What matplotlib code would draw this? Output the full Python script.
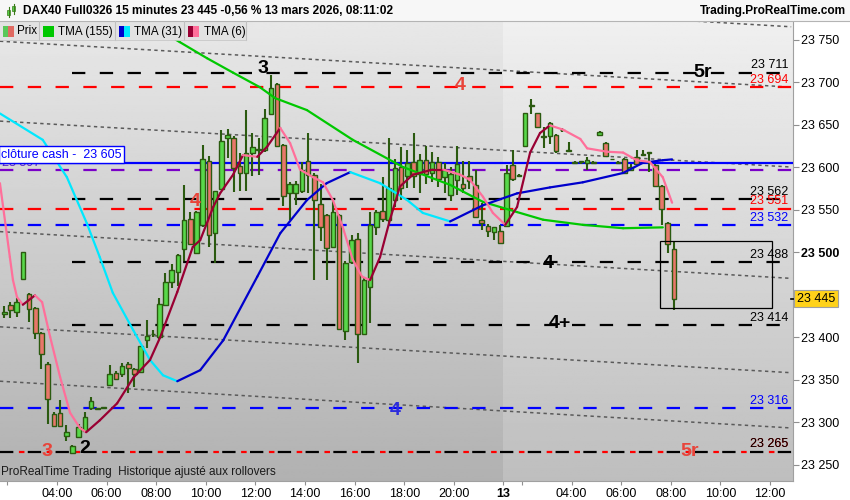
import numpy as np
import matplotlib
matplotlib.use('Agg')
import matplotlib.pyplot as plt
from matplotlib.patches import Rectangle
import matplotlib.transforms as mtrans

plt.rcParams['font.family'] = ['Liberation Sans', 'DejaVu Sans']

# 15 min candles, index 0 = 12 mars 01:45 ... index 108 = 13 mars 08:00
opens = [23427, 23438, 23429, 23468, 23451, 23434, 23405, 23368, 23310, 23311,
         23284, 23263, 23282, 23290, 23316, 23315, 23317, 23344, 23358, 23356,
         23368, 23362, 23359, 23396, 23403, 23400, 23438, 23465, 23477, 23503,
         23539, 23499, 23532, 23607, 23522, 23574, 23634, 23634, 23601, 23593,
         23617, 23620, 23620, 23662, 23698, 23626, 23569, 23569, 23572, 23607,
         23591, 23556, 23543, 23506, 23543, 23407, 23488, 23515, 23404, 23459,
         23530, 23548, 23538, 23561, 23600, 23590, 23606, 23592, 23608, 23593,
         23606, 23588, 23567, 23585, 23580, 23589, 23579, 23538, 23531, 23523,
         23525, 23531, 23602, 23591, 23625, 23672, 23663, 23635, 23636, 23638,
         23644, 23620, 23605, 23606, 23605, 23605, 23638, 23628, 23609, 23605,
         23610, 23596, 23612, 23615, 23617, 23602, 23578, 23534, 23503]
highs = [23436, 23441, 23446, 23500, 23452, 23435, 23406, 23371, 23312, 23326,
         23296, 23273, 23298, 23312, 23330, 23316, 23318, 23367, 23360, 23370,
         23371, 23364, 23389, 23420, 23408, 23446, 23475, 23486, 23498, 23579,
         23547, 23548, 23626, 23613, 23572, 23643, 23645, 23636, 23617, 23667,
         23640, 23634, 23668, 23708, 23699, 23627, 23582, 23584, 23606, 23640,
         23593, 23580, 23545, 23560, 23545, 23490, 23520, 23522, 23471, 23547,
         23550, 23588, 23634, 23610, 23624, 23620, 23640, 23615, 23625, 23618,
         23612, 23605, 23600, 23625, 23607, 23607, 23597, 23558, 23533, 23530,
         23532, 23602, 23620, 23592, 23663, 23680, 23664, 23647, 23653, 23639,
         23646, 23630, 23607, 23607, 23612, 23607, 23642, 23629, 23610, 23607,
         23611, 23603, 23620, 23620, 23618, 23603, 23579, 23535, 23512]
lows = [23422, 23422, 23424, 23467, 23418, 23398, 23362, 23298, 23294, 23294,
        23278, 23262, 23281, 23289, 23314, 23314, 23316, 23343, 23350, 23353,
        23334, 23341, 23358, 23387, 23400, 23398, 23436, 23458, 23460, 23490,
        23508, 23498, 23530, 23506, 23487, 23573, 23611, 23571, 23572, 23572,
        23590, 23591, 23618, 23661, 23624, 23554, 23538, 23555, 23570, 23569,
        23467, 23513, 23467, 23505, 23408, 23397, 23486, 23369, 23402, 23416,
        23520, 23535, 23532, 23553, 23561, 23575, 23575, 23570, 23580, 23582,
        23576, 23570, 23560, 23567, 23570, 23574, 23540, 23526, 23518, 23514,
        23510, 23530, 23584, 23589, 23624, 23662, 23646, 23622, 23627, 23616,
        23641, 23618, 23603, 23604, 23596, 23603, 23638, 23612, 23608, 23603,
        23592, 23596, 23603, 23613, 23594, 23576, 23532, 23499, 23432]
closes = [23430, 23432, 23441, 23500, 23433, 23405, 23380, 23327, 23295, 23295,
          23288, 23272, 23294, 23306, 23325, 23316, 23318, 23356, 23351, 23366,
          23363, 23356, 23389, 23401, 23404, 23439, 23465, 23479, 23496, 23538,
          23510, 23547, 23610, 23520, 23572, 23631, 23638, 23599, 23593, 23616,
          23623, 23621, 23658, 23693, 23625, 23566, 23580, 23580, 23596, 23591,
          23561, 23530, 23505, 23547, 23409, 23487, 23514, 23404, 23467, 23532,
          23547, 23539, 23575, 23599, 23575, 23605, 23590, 23608, 23592, 23606,
          23586, 23596, 23592, 23603, 23575, 23583, 23541, 23534, 23525, 23529,
          23511, 23593, 23586, 23590, 23663, 23673, 23647, 23636, 23652, 23619,
          23643, 23619, 23605, 23606, 23608, 23605, 23641, 23613, 23609, 23605,
          23593, 23600, 23604, 23614, 23617, 23578, 23551, 23510, 23445]

# moving averages (candle index, value)
tma155_x = [26.7, 28.3, 32.7, 36.9, 41.2, 43.7, 48.8, 56.2, 64.3, 71.9, 77.2, 82.7, 86.9, 93.3, 99.8, 106.2]
tma155_y = [23754, 23747, 23728, 23711, 23694, 23681, 23667, 23632, 23600, 23579, 23559, 23547, 23538,
            23532, 23528, 23529]

tma31_x = [-0.7, 6.2, 10.1, 13.3, 15.4, 17.5, 20.8, 23.5, 25.6, 27.9, 31.6, 35.3, 40.8, 44.5,
           48.8, 52.0, 55.8, 60.6, 65.0, 67.5, 71.9, 77.2, 82.7, 88.0, 93.3, 99.8, 103.0, 106.2, 107.7]
tma31_y = [23663, 23632, 23588, 23534, 23494, 23452, 23408, 23373, 23355, 23348, 23361, 23396, 23471, 23522,
           23561, 23581, 23594, 23581, 23561, 23546, 23536, 23555, 23569, 23576, 23582, 23593, 23605, 23608, 23609]

tma6_x = [-0.7, 0.9, 1.4, 2.05, 3.0, 4.95, 6.1, 7.4, 9.0, 10.6, 12.2, 13.2, 15.4, 18.2, 20.8, 23.5,
          25.1, 27.9, 30.4, 31.6, 33.7, 34.8, 36.9, 38.5, 40.8, 42.4, 44.5, 46.1, 47.7, 49.8, 51.4,
          53.0, 54.6, 56.2, 57.7, 59.0, 60.6, 62.2, 63.8, 65.9, 69.1, 70.8, 73.5, 75.1, 77.2, 78.8,
          80.8, 82.7, 84.8, 86.4, 88.0, 90.1, 92.9, 94.0, 97.2, 99.8, 102.0, 104.1, 106.2, 107.7]
tma6_y = [23581, 23494, 23467, 23447, 23438, 23449, 23441, 23400, 23353, 23311, 23293, 23288, 23302,
          23322, 23352, 23373, 23399, 23453, 23506, 23514, 23553, 23569, 23591, 23614, 23612, 23624,
          23646, 23628, 23597, 23588, 23582, 23561, 23529, 23491, 23471, 23467, 23494, 23538, 23577,
          23591, 23597, 23597, 23591, 23585, 23565, 23546, 23532, 23553, 23617, 23640, 23649, 23644,
          23633, 23622, 23618, 23617, 23608, 23606, 23588, 23558]

# dotted trend lines (start index, start value, end index, end value)
trend_lines = [(-0.7, 23820, 126.9, 23765),
               (-0.7, 23748, 126.9, 23694),
               (-0.7, 23654, 126.9, 23600),
               (-0.7, 23524, 126.9, 23469),
               (-0.7, 23412, 126.9, 23358),
               (-0.7, 23348, 126.9, 23293)]

cash_close = 23605
purple_level = 23597
levels_black = [23711, 23562, 23488, 23414]
levels_red = [23694, 23551]
levels_blue = [23532, 23316]
level_mixed = 23265
box = (105.8, 23434, 123.8, 23513)

tick_pos = [0.5, 8.5, 16.5, 24.5, 32.5, 40.5, 48.5, 56.5, 64.5, 72.5, 80.5, 83.5,
            91.5, 99.5, 107.5, 115.5, 123.5]
tick_lab = ['', '04:00', '06:00', '08:00', '10:00', '12:00', '14:00', '16:00', '18:00',
            '20:00', '13', '', '04:00', '06:00', '08:00', '10:00', '12:00']

pivots = [('3', 41.7, 23716, 'black'), ('5r', 112.7, 23711, 'black'), ('4', 73.5, 23696, '#e8443a'),
          ('4', 30.8, 23559, '#e8443a'), ('4', 87.7, 23486, 'black'), ('4+', 89.6, 23416, 'black'),
          ('4', 63.0, 23314, '#2c2cdc'), ('3', 6.9, 23265, '#e8443a'), ('2', 13.0, 23269, 'black'),
          ('5r', 110.6, 23265, '#e8443a')]

XMIN, XMAX = -0.69, 127.2
YMIN, YMAX = 23230.6, 23771.8

fig = plt.figure(figsize=(8.5, 5), dpi=100)
fig.patch.set_facecolor('white')
ax = fig.add_axes([0, 19 / 500, 793 / 850, 460 / 500])
ax.set_xlim(XMIN, XMAX)
ax.set_ylim(YMIN, YMAX)

# background gradients (previous day darker)
grad = np.linspace(0, 1, 256).reshape(-1, 1)
ax.imshow(0.695 + 0.215 * grad, cmap='gray', vmin=0, vmax=1, origin='lower', aspect='auto',
          extent=(XMIN, 80.5, YMIN, YMAX), zorder=0)
ax.imshow(0.745 + 0.195 * grad, cmap='gray', vmin=0, vmax=1, origin='lower', aspect='auto',
          extent=(80.5, XMAX, YMIN, YMAX), zorder=0)

# trend lines
for x0, y0, x1, y1 in trend_lines:
    ax.plot([x0, x1], [y0, y1], color='#5a5a5a', lw=1.1, ls=(0, (2.2, 2.2)), zorder=2)

# levels
dash = (0, (6, 6.5))
ax.axhline(purple_level, color='#7a00c8', lw=1.6, ls=dash, zorder=2)
for lv in levels_red:
    ax.axhline(lv, color='#ff0000', lw=1.6, ls=dash, zorder=2)
for lv in levels_blue:
    ax.axhline(lv, color='#0000ff', lw=1.6, ls=dash, zorder=2)
for lv in levels_black:
    ax.plot([10.9, XMAX], [lv, lv], color='black', lw=1.6, ls=dash, zorder=2)
ax.axhline(level_mixed, color='black', lw=1.6, ls=(0, (6, 6.5)), zorder=2)
ax.axhline(level_mixed, color='#ff0000', lw=1.6, ls=(4, (2.5, 10)), zorder=2)
ax.axhline(cash_close, color='#0000ff', lw=1.6, zorder=3)

# candles
edge = '#2b5a10'
for i in range(len(opens)):
    o, h, l, c = opens[i], highs[i], lows[i], closes[i]
    ax.vlines(i, l, h, color=edge, lw=1.5, zorder=4)
    fc = '#58d84a' if c >= o else '#e8776a'
    ax.add_patch(Rectangle((i - 0.37, min(o, c)), 0.74, max(abs(c - o), 0.9),
                           facecolor=fc, edgecolor=edge, lw=1.0, zorder=5))


def draw_ma(xs, ys, up, down, lw=1.6):
    for k in range(len(xs) - 1):
        col = up if ys[k + 1] >= ys[k] else down
        ax.plot(xs[k:k + 2], ys[k:k + 2], color=col, lw=lw, solid_capstyle='round', zorder=6)


draw_ma(tma155_x, tma155_y, '#00c800', '#00c800')
draw_ma(tma31_x, tma31_y, '#0000cc', '#00e8ff')
draw_ma(tma6_x, tma6_y, '#990033', '#ff6f9a')

ax.add_patch(Rectangle((box[0], box[1]), box[2] - box[0], box[3] - box[1],
                       fill=False, edgecolor='black', lw=0.9, zorder=7))

# level labels on the right
lab_x = 126.4
for lv, col in [(23711, 'black'), (23694, '#ff0000'), (23562, 'black'), (23551, '#ff0000'),
                (23532, '#0000ff'), (23488, 'black'), (23414, 'black'), (23316, '#0000ff')]:
    ax.text(lab_x, lv + 1.5, f"{lv:,}".replace(',', ' '), color=col, fontsize=9,
            ha='right', va='bottom', zorder=8)
ax.text(lab_x + 0.1, level_mixed + 1.8, "23 265", color='#ff0000', fontsize=9, ha='right', va='bottom', zorder=8)
ax.text(lab_x, level_mixed + 1.5, "23 265", color='black', fontsize=9, ha='right', va='bottom', zorder=8)

ax.text(-0.35, purple_level + 0.5, "23 597", color='#5a20c8', fontsize=9, ha='left', va='bottom', zorder=7)
ax.text(-0.45, cash_close + 2.5, "clôture cash -  23 605", color='#0000ff', fontsize=9,
        ha='left', va='bottom', zorder=9,
        bbox=dict(boxstyle='square,pad=0.18', facecolor='white', edgecolor='#0000ff', lw=1.0))

for txt, xi, yv, col in pivots:
    ax.text(xi, yv, txt, color=col, fontsize=14, fontweight='bold', ha='center', va='center', zorder=8)

ax.text(-0.45, YMIN + 3, "ProRealTime Trading  Historique ajusté aux rollovers", color='#1a1a1a',
        fontsize=8.5, ha='left', va='bottom', zorder=8)

# axes
ax.yaxis.tick_right()
yt = np.arange(23250, 23751, 50)
ax.set_yticks(yt)
ax.set_yticklabels([f"{v:,}".replace(',', ' ') for v in yt], fontsize=9)
for t in ax.get_yticklabels():
    if t.get_text() == '23 500':
        t.set_fontweight('bold')
ax.set_xticks(tick_pos)
ax.set_xticklabels(tick_lab, fontsize=9)
for t in ax.get_xticklabels():
    if t.get_text() == '13':
        t.set_fontweight('bold')
ax.tick_params(axis='y', length=4, color='#909090', pad=2)
ax.tick_params(axis='x', length=3, color='#909090', pad=2)
for s in ['left', 'top']:
    ax.spines[s].set_visible(False)
ax.spines['right'].set_color('#a0a0a0')
ax.spines['bottom'].set_color('#a0a0a0')

# current price marker
trans = mtrans.blended_transform_factory(ax.transAxes, ax.transData)
ax.plot([0.998, 1.005], [closes[-1], closes[-1]], color='black', lw=1.2, transform=trans, clip_on=False, zorder=9)
ax.text(1.005, closes[-1], f"{closes[-1]:,}".replace(',', ' '), transform=trans, fontsize=9,
        ha='left', va='center', zorder=9,
        bbox=dict(boxstyle='square,pad=0.2', facecolor='#ffd21a', edgecolor='#a0a0a0', lw=0.8))

# header and legend overlay (pixel coordinates)
ov = fig.add_axes([0, 0, 1, 1], zorder=10)
ov.set_xlim(0, 850)
ov.set_ylim(500, 0)
ov.axis('off')
ov.patch.set_alpha(0)
ov.add_patch(Rectangle((0, 0), 850, 20.5, facecolor='#f7f7f7', edgecolor='none'))
ov.plot([0, 850], [20.5, 20.5], color='#b4b4b4', lw=0.8)
ov.plot([9, 9], [7, 17], color='#3a7a1a', lw=0.8)
ov.add_patch(Rectangle((7.5, 10), 3, 5, facecolor='#58d84a', edgecolor='#3a7a1a', lw=0.5))
ov.plot([14, 14], [4, 14], color='#3a7a1a', lw=0.8)
ov.add_patch(Rectangle((12.5, 6), 3, 5, facecolor='#58d84a', edgecolor='#3a7a1a', lw=0.5))
ov.text(23, 11, "DAX40 Full0326 15 minutes 23 445 -0,56 % 13 mars 2026, 08:11:02", fontsize=8.6,
        fontweight='bold', ha='left', va='center')
ov.text(846, 11, "Trading.ProRealTime.com", fontsize=8.6, fontweight='bold', ha='right', va='center')

ov.add_patch(Rectangle((0, 21), 246, 19, facecolor='#e2e2e2', edgecolor='none'))
for sx in [39.5, 115.5, 184.5, 246]:
    ov.plot([sx, sx], [21, 40], color='#c0c0c0', lw=0.8)
ov.plot([0, 246], [40, 40], color='#c8c8c8', lw=0.6)
legend_items = [(3, '#58c858', '#e06a62', 'Prix', 17),
                (43, '#00c800', '#00c800', 'TMA (155)', 58),
                (119, '#0000cc', '#00e8ff', 'TMA (31)', 134),
                (188, '#990033', '#ff6f9a', 'TMA (6)', 204)]
for x0, c1, c2, name, tx in legend_items:
    ov.add_patch(Rectangle((x0, 26), 5.5, 11, facecolor=c1, edgecolor='none'))
    ov.add_patch(Rectangle((x0 + 5.5, 26), 5.5, 11, facecolor=c2, edgecolor='none'))
    ov.text(tx, 31.5, name, fontsize=8.4, ha='left', va='center')

fig.savefig('out.png', dpi=100)
